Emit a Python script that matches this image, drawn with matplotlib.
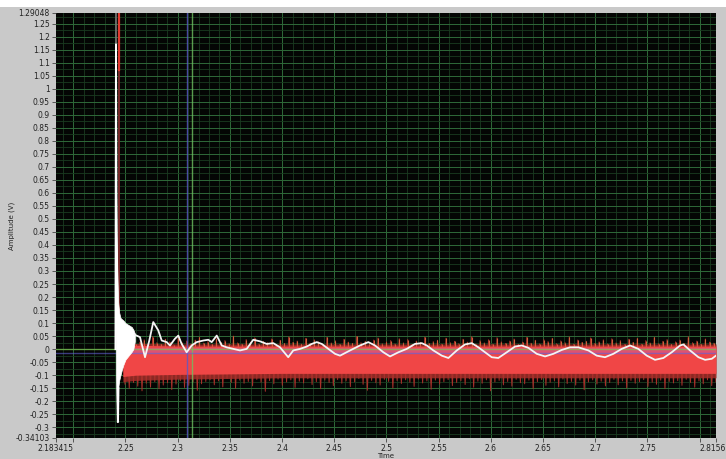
import numpy as np
import matplotlib
matplotlib.use("Agg")
import matplotlib.pyplot as plt
from matplotlib.patches import Rectangle
from matplotlib.transforms import ScaledTranslation

plt.rcParams['font.family'] = 'DejaVu Sans'

# ---------------------------------------------------------------------------
# data (time in s, amplitude in V)
# ---------------------------------------------------------------------------
x_min, x_max = 2.183415, 2.8156
y_min, y_max = -0.34103, 1.29048

# cursors
cursor_green_x = 2.3137
cursor_blue_x = 2.3090
cursor_green_y = 0.0
cursor_blue_y = -0.016

# white trace: impulse at ~2.241 s
white_spike_x = [2.2404, 2.2409, 2.2413, 2.2420, 2.2428, 2.2433]
white_spike_y = [0.000, 1.170, 0.600, 0.300, -0.280, -0.150]
white_blob_x = [2.2410, 2.2416, 2.2422, 2.2430, 2.2440, 2.2452, 2.2465, 2.2480,
                2.2500, 2.2520, 2.2540, 2.2560, 2.2575, 2.2590]
white_blob_top = [0.45, 0.38, 0.28, 0.18, 0.14, 0.12, 0.115, 0.11,
                  0.10, 0.095, 0.09, 0.085, 0.075, 0.06]
white_blob_bot = [-0.10, -0.28, -0.20, -0.15, -0.12, -0.10, -0.08, -0.06,
                  -0.04, -0.03, -0.02, -0.01, 0.00, 0.03]

# white trace after the impulse
white_x = [2.2590, 2.2639, 2.2687, 2.2728, 2.2766, 2.2814, 2.2847, 2.2895, 2.2926,
           2.2974, 2.3006, 2.3038, 2.3086, 2.3134, 2.3182, 2.3245, 2.3293, 2.3326, 2.3374,
           2.3422, 2.3469, 2.3533, 2.3597, 2.3661, 2.3724, 2.3788, 2.3853, 2.3916, 2.3980,
           2.4059, 2.4107, 2.4172, 2.4236, 2.4284, 2.4332, 2.4380, 2.4443, 2.4507, 2.4555,
           2.4651, 2.4746, 2.4826, 2.4890, 2.4970, 2.5034, 2.5114, 2.5194, 2.5273, 2.5338,
           2.5386, 2.5449, 2.5530, 2.5593, 2.5673, 2.5752, 2.5817, 2.5880, 2.5944, 2.6008,
           2.6071, 2.6152, 2.6231, 2.6295, 2.6359, 2.6439, 2.6519, 2.6598, 2.6679, 2.6758,
           2.6838, 2.6934, 2.7014, 2.7093, 2.7173, 2.7253, 2.7333, 2.7412, 2.7493, 2.7572,
           2.7652, 2.7732, 2.7812, 2.7844, 2.7908, 2.7988, 2.8052, 2.8116, 2.8156]
white_y = [0.055, 0.046, -0.031, 0.033, 0.104, 0.072, 0.033, 0.027, 0.014,
           0.040, 0.052, 0.020, -0.012, 0.014, 0.027, 0.033, 0.036, 0.027, 0.052,
           0.014, 0.007, 0.001, -0.005, 0.001, 0.036, 0.030, 0.020, 0.023, 0.007,
           -0.031, -0.005, 0.001, 0.010, 0.020, 0.027, 0.020, 0.001, -0.018, -0.025,
           -0.005, 0.014, 0.027, 0.014, -0.012, -0.028, -0.012, 0.001, 0.020, 0.023,
           0.014, -0.005, -0.025, -0.034, -0.005, 0.018, 0.023, 0.007, -0.012, -0.031,
           -0.034, -0.012, 0.010, 0.014, 0.005, -0.018, -0.028, -0.018, -0.003, 0.007,
           0.007, -0.005, -0.025, -0.031, -0.018, 0.001, 0.014, 0.001, -0.025, -0.041,
           -0.034, -0.012, 0.014, 0.018, -0.005, -0.031, -0.041, -0.037, -0.025]

# red trace: impulse + noise band
red_spike_x = 2.2435
red_spike_bright = [1.07, 1.40]
red_spike_dim = [0.00, 1.07]

red_core_x = [2.2475, 2.2600, 2.3000, 2.4000, 2.5000, 2.6000, 2.7000, 2.8156]
red_core_top = [0.020, 0.015, 0.012, 0.012, 0.012, 0.012, 0.012, 0.012]
red_core_bot = [-0.105, -0.100, -0.097, -0.093, -0.093, -0.093, -0.093, -0.093]
red_fringe_bot = [-0.125, -0.120, -0.115, -0.110, -0.110, -0.110, -0.110, -0.110]
red_fringe_top = [0.028, 0.022, 0.020, 0.020, 0.020, 0.020, 0.020, 0.020]
red_pink_top = [0.006, 0.006, 0.006, 0.006, 0.006, 0.006, 0.006, 0.006]
red_pink_bot = [-0.017, -0.017, -0.017, -0.017, -0.017, -0.017, -0.017, -0.017]

# noise extremes, one pair per sample
red_lo = [-0.135, -0.150, -0.128, -0.142, -0.160, -0.131, -0.146, -0.125, -0.152, -0.138,
          -0.129, -0.155, -0.134, -0.121, -0.147, -0.139, -0.126, -0.158, -0.133, -0.124,
          -0.118, -0.137, -0.122, -0.145, -0.113, -0.128, -0.150, -0.119, -0.131, -0.124,
          -0.141, -0.116, -0.127, -0.162, -0.121, -0.133, -0.115, -0.139, -0.126, -0.118,
          -0.147, -0.123, -0.130, -0.114, -0.136, -0.125, -0.152, -0.119, -0.128, -0.140,
          -0.117, -0.131, -0.122, -0.144, -0.126, -0.113, -0.135, -0.158, -0.120, -0.129,
          -0.138, -0.116, -0.124, -0.149, -0.121, -0.132, -0.118, -0.127, -0.143, -0.115,
          -0.130, -0.122, -0.154, -0.119, -0.134, -0.125, -0.117, -0.140, -0.128, -0.121,
          -0.136, -0.114, -0.146, -0.123, -0.131, -0.118, -0.160, -0.126, -0.120, -0.137,
          -0.124, -0.142, -0.116, -0.129, -0.133, -0.119, -0.151, -0.125, -0.117, -0.139,
          -0.127, -0.121, -0.145, -0.115, -0.132, -0.124, -0.138, -0.119, -0.156, -0.126,
          -0.118, -0.134, -0.123, -0.141, -0.128, -0.116, -0.137, -0.122, -0.149, -0.120,
          -0.131, -0.125, -0.117, -0.143, -0.127, -0.135, -0.119, -0.152, -0.124, -0.130,
          -0.121, -0.139, -0.116, -0.128, -0.146, -0.122, -0.133, -0.118, -0.140, -0.126]

red_hi = [0.032, 0.021, 0.044, 0.018, 0.027, 0.036, 0.022, 0.048, 0.025, 0.019,
          0.038, 0.028, 0.017, 0.042, 0.024, 0.031, 0.020, 0.035, 0.046, 0.023,
          0.029, 0.018, 0.040, 0.026, 0.033, 0.021, 0.050, 0.024, 0.019, 0.037,
          0.027, 0.043, 0.020, 0.030, 0.025, 0.039, 0.018, 0.034, 0.022, 0.047,
          0.026, 0.031, 0.019, 0.041, 0.023, 0.036, 0.028, 0.020, 0.045, 0.024,
          0.032, 0.018, 0.038, 0.027, 0.022, 0.049, 0.025, 0.030, 0.019, 0.035,
          0.043, 0.021, 0.028, 0.033, 0.020, 0.040, 0.024, 0.037, 0.018, 0.031,
          0.026, 0.046, 0.022, 0.029, 0.034, 0.019, 0.042, 0.025, 0.030, 0.021,
          0.038, 0.027, 0.048, 0.020, 0.033, 0.024, 0.036, 0.019, 0.044, 0.028,
          0.022, 0.031, 0.039, 0.018, 0.027, 0.045, 0.023, 0.034, 0.020, 0.037,
          0.029, 0.041, 0.021, 0.032, 0.025, 0.047, 0.019, 0.035, 0.026, 0.030,
          0.043, 0.022, 0.028, 0.036, 0.020, 0.040, 0.024, 0.033, 0.018, 0.038,
          0.026, 0.041, 0.019, 0.033, 0.024, 0.045, 0.021, 0.030, 0.037, 0.018,
          0.028, 0.035, 0.022, 0.048, 0.025, 0.031, 0.019, 0.039, 0.027, 0.023,
          0.042, 0.020, 0.034, 0.026, 0.030, 0.046, 0.021, 0.036, 0.024, 0.029]

# ticks
y_ticks = [1.29048, 1.25, 1.2, 1.15, 1.1, 1.05, 1.0, 0.95, 0.9, 0.85, 0.8, 0.75, 0.7,
           0.65, 0.6, 0.55, 0.5, 0.45, 0.4, 0.35, 0.3, 0.25, 0.2, 0.15, 0.1, 0.05, 0.0,
           -0.05, -0.1, -0.15, -0.2, -0.25, -0.3, -0.34103]
y_labels = ['1.29048', '1.25', '1.2', '1.15', '1.1', '1.05', '1', '0.95', '0.9', '0.85',
            '0.8', '0.75', '0.7', '0.65', '0.6', '0.55', '0.5', '0.45', '0.4', '0.35',
            '0.3', '0.25', '0.2', '0.15', '0.1', '0.05', '0', '-0.05', '-0.1', '-0.15',
            '-0.2', '-0.25', '-0.3', '-0.34103']
x_ticks = [x_min, 2.2, 2.25, 2.3, 2.35, 2.4, 2.45, 2.5, 2.55, 2.6, 2.65, 2.7, 2.75, 2.8, x_max]
x_labels = ['2.183415', '', '2.25', '2.3', '2.35', '2.4', '2.45', '2.5', '2.55',
            '2.6', '2.65', '2.7', '2.75', '', '2.8156']

# ---------------------------------------------------------------------------
fig = plt.figure(figsize=(7.26, 4.59), dpi=100, facecolor='#c9c9c9')
fig.patches.append(Rectangle((0, 0.985), 1, 0.015, transform=fig.transFigure,
                             facecolor='white', edgecolor='none', zorder=-1))
ax = fig.add_axes([0.0771, 0.0458, 0.9091, 0.9259])
ax.set_facecolor('#040604')

ax.set_xlim(x_min, x_max)
ax.set_ylim(y_min, y_max)

# grid
major_c, minor_c = '#2f6a39', '#1a3b20'
for gx in np.round(np.arange(2.19, 2.815, 0.01), 3):
    major = abs(gx * 20 - round(gx * 20)) < 1e-6
    ax.axvline(gx, color=major_c if major else minor_c, lw=0.7 if major else 0.6, zorder=1)
for gy in np.round(np.arange(-0.325, 1.29, 0.025), 3):
    major = abs(gy * 20 - round(gy * 20)) < 1e-6
    ax.axhline(gy, color=major_c if major else minor_c, lw=0.7 if major else 0.6, zorder=1)

# red noise band: darker fringe, zigzag between the extremes, bright core on top
n = min(len(red_lo), len(red_hi))
zig_x = np.linspace(red_core_x[0], x_max, 2 * n)
zig_y = np.empty(2 * n)
zig_y[0::2] = red_hi[:n]
zig_y[1::2] = red_lo[:n]
ax.fill_between(red_core_x, red_fringe_bot, red_fringe_top, color='#8c2824', lw=0, zorder=2)
ax.plot(zig_x, zig_y, color='#a8302a', lw=0.7, zorder=3)
ax.vlines(zig_x[0::2], 0.0, zig_y[0::2], color='#d0603c', lw=0.8, zorder=3)
ax.fill_between(red_core_x, red_core_bot, red_core_top, color='#f04646', lw=0, zorder=4)
ax.fill_between(red_core_x, red_pink_bot, red_pink_top, color='#de5272', lw=0, zorder=4)

# red impulse
ax.plot([red_spike_x, red_spike_x], red_spike_dim, color='#7a2b2b', lw=1.4, zorder=4)
ax.plot([red_spike_x, red_spike_x], red_spike_bright, color='#e23a30', lw=1.6, zorder=4)

# cursors
ax.axvline(cursor_blue_x, color='#5a5ac8', lw=1.0, alpha=0.8, zorder=5)
ax.axvline(cursor_green_x, color='#6fc060', lw=1.0, alpha=0.8, zorder=5)
ax.axhline(cursor_blue_y, color='#6060d0', lw=1.0, alpha=0.6, zorder=5)
ax.axhline(cursor_green_y, color='#7ec050', lw=1.0, alpha=0.7, zorder=5)

# white trace
ax.plot([white_spike_x[1], white_spike_x[1]], [white_spike_y[1], 1.40], color='#777777', lw=1.2, zorder=6)
ax.plot(white_spike_x, white_spike_y, color='white', lw=1.4, zorder=6)
ax.fill_between(white_blob_x, white_blob_bot, white_blob_top, color='white', lw=0.5, zorder=6)
ax.plot(white_x, white_y, color='#f4f4f4', lw=1.3, zorder=6)

# axes / ticks
for s in ax.spines.values():
    s.set_visible(False)
ax.set_xticks(x_ticks)
ax.set_xticklabels(x_labels)
ax.set_yticks(y_ticks)
ax.set_yticklabels(y_labels)
ax.tick_params(direction='out', length=3, width=0.6, color='#444444',
               labelsize=5.5, labelcolor='#222222', pad=1.5)
last = ax.get_xticklabels()[-1]
last.set_horizontalalignment('right')
last.set_transform(last.get_transform() + ScaledTranslation(7 / 72, 0, fig.dpi_scale_trans))

ax.set_xlabel('Time', fontsize=5, color='#222222')
ax.xaxis.set_label_coords(0.5, -0.036)
ax.set_ylabel('Amplitude (V)', fontsize=5, color='#222222')
ax.yaxis.set_label_coords(-0.062, 0.5)

fig.savefig('out.png', dpi=100, facecolor=fig.get_facecolor())
